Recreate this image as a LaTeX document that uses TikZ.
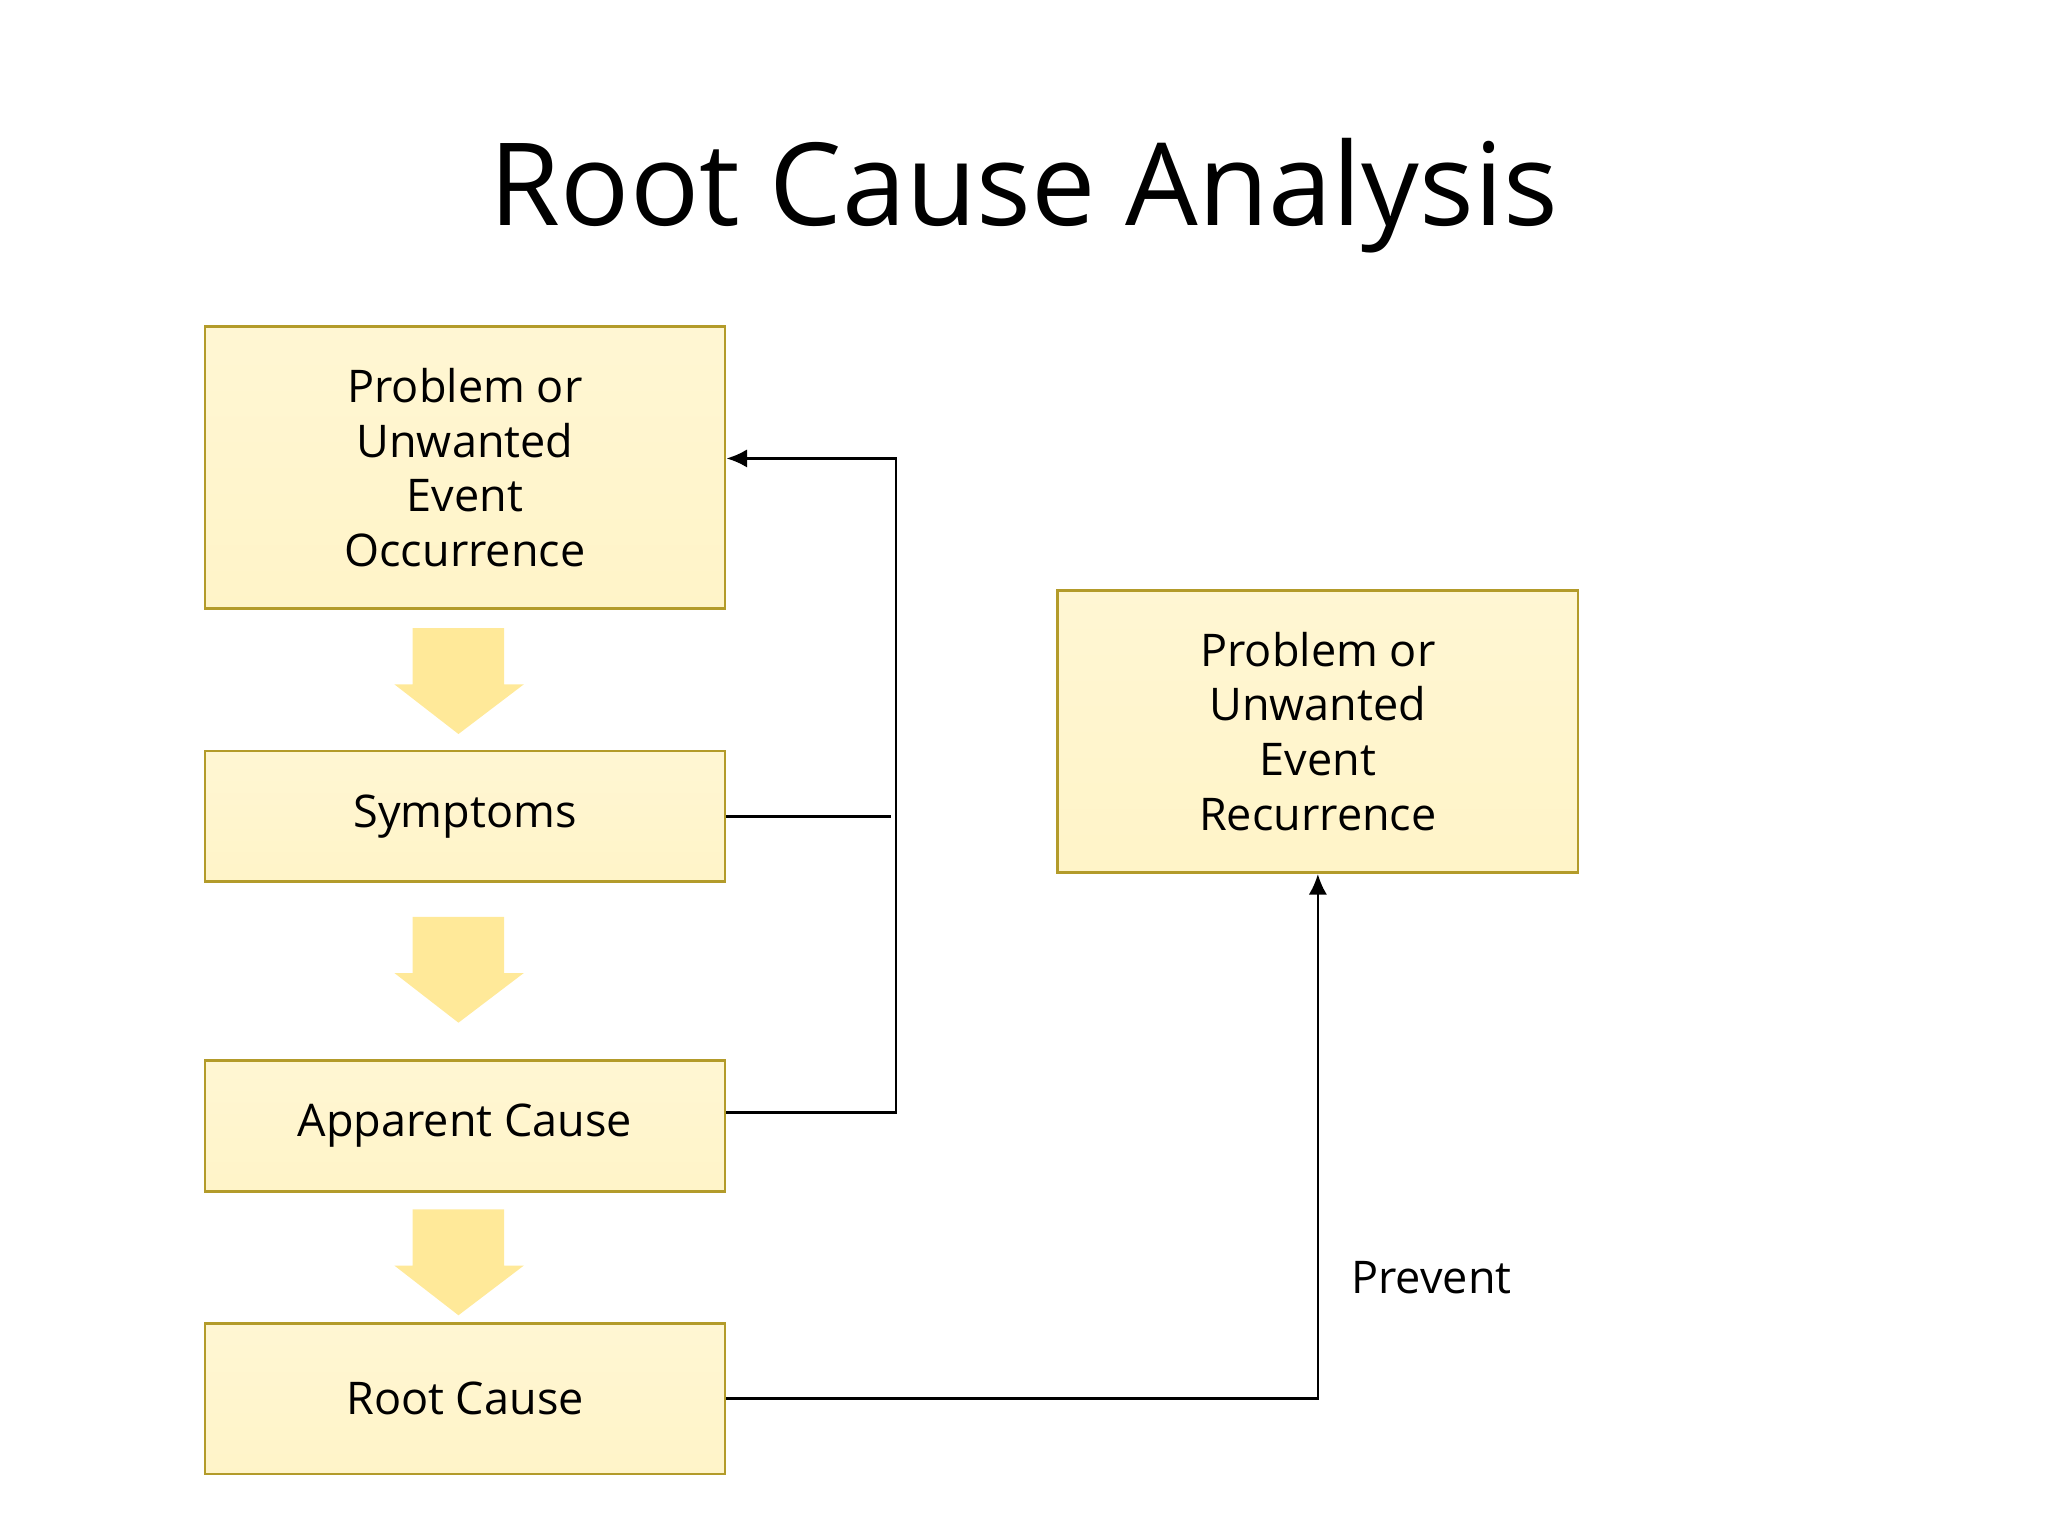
\documentclass[tikz,border=0pt]{standalone}
\usepackage{fontspec}
\setmainfont{Open Sans}
\usetikzlibrary{arrows.meta}
\definecolor{boxfill}{HTML}{FFF4C8}
\definecolor{boxline}{HTML}{B39B2A}
\definecolor{arrfill}{HTML}{FFE999}
\begin{document}
\begin{tikzpicture}[x=0.01cm,y=-0.01cm,
  box/.style={draw=boxline,line width=0.6pt,top color=boxfill!80!white,bottom color=boxfill,inner sep=0pt,align=center,minimum width=3.98cm,font=\fontsize{9.8}{11.9}\selectfont},
  conn/.style={draw=black,line width=0.6pt},
  tip/.style={-{Latex[length=4.5pt,width=4pt]}},
  fat/.style={fill=arrfill,draw=none}]
\useasboundingbox (0,0) rectangle (1568,1176);
\node[font=\fontsize{25}{30}\selectfont] (title) at (784,150) {Root Cause Analysis};
\node[box,minimum height=2.16cm] (occ) at (356,358) {Problem or\\Unwanted\\Event\\Occurrence};
\node[box,minimum height=1.0cm] (sym) at (356,625) {\raisebox{-2pt}{Symptoms}};
\node[box,minimum height=1.0cm] (app) at (356,862) {Apparent Cause};
\node[box,minimum height=1.15cm] (root) at (356,1071) {Root Cause};
\node[box,minimum height=2.16cm] (rec) at (1009,560) {Problem or\\Unwanted\\Event\\Recurrence};
\foreach \y in {481,702,926}{
  \fill[fat] (316,\y) -- (386,\y) -- (386,\y+43) -- (401,\y+43) -- (351,\y+81) -- (302,\y+43) -- (316,\y+43) -- cycle;
}
\coordinate (c1) at (686,852);
\coordinate (c2) at (686,351);
\coordinate (s1) at (682,625);
\draw[conn,tip] (app.east |- c1) -- (c1) -- (c2) -- (occ.east |- c2);
\draw[conn] (sym.east) -- (s1);
\coordinate (r1) at (1009,1071);
\draw[conn,tip] (root.east) -- (r1) -- (rec.south);
\node[font=\fontsize{9.8}{11.9}\selectfont] (prev) at (1096,978) {Prevent};
\end{tikzpicture}
\end{document}
